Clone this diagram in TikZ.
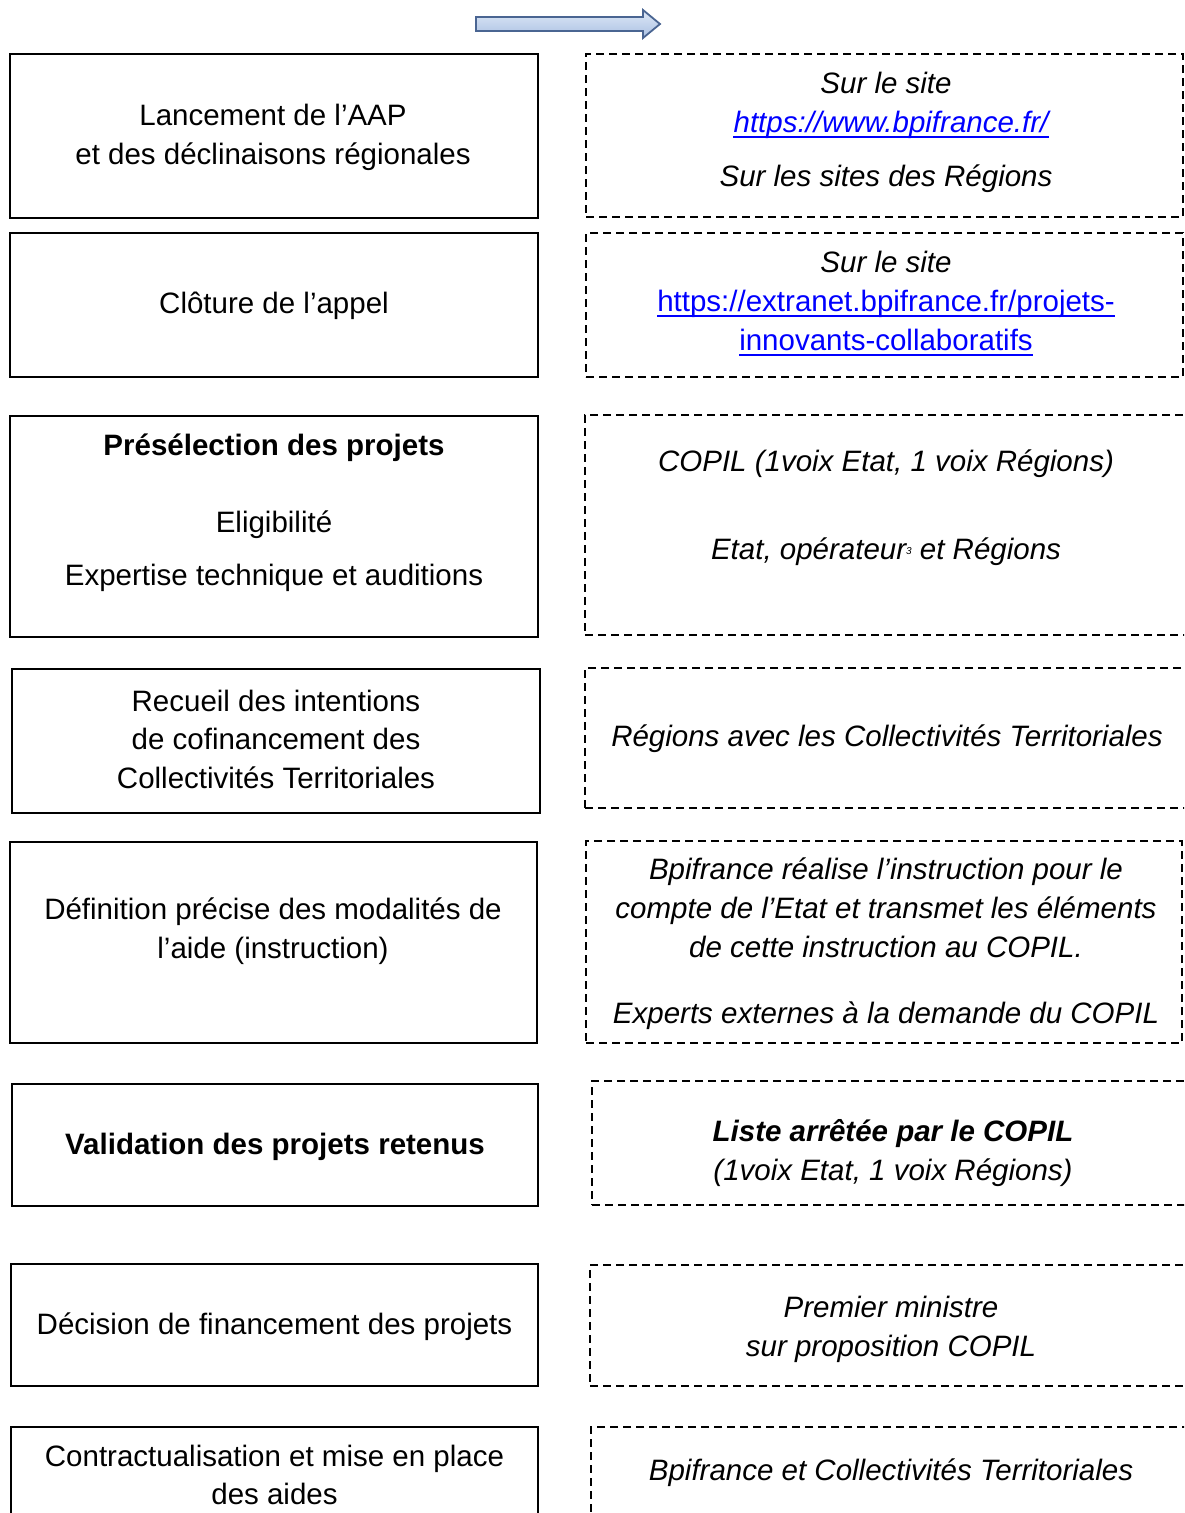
\documentclass[tikz,border=0pt]{standalone}
\usepackage{fontspec}
\setmainfont{Liberation Sans}
\definecolor{linkblue}{RGB}{0,0,255}
\definecolor{arrowline}{RGB}{74,101,146}
\definecolor{arrowtop}{RGB}{222,232,247}
\definecolor{arrowbot}{RGB}{170,192,226}
\begin{document}
\begin{tikzpicture}[x=1pt,y=-1pt,
  lbox/.style={draw, line width=1.8pt, inner sep=0pt},
  rbox/.style={draw, line width=1.6pt, dash pattern=on 8pt off 5pt, inner sep=0pt},
  txt/.style={anchor=base, inner sep=0pt, font=\fontsize{29.5}{39}\selectfont},
  itxt/.style={txt, font=\fontsize{29.5}{39}\selectfont\itshape},
  btxt/.style={txt, font=\fontsize{29.5}{39}\selectfont\bfseries},
  lnk/.style={text=linkblue},
  uline/.style={draw=linkblue, line width=1.8pt}]
\useasboundingbox (0,0) rectangle (1184,1513);
\clip (0,0) rectangle (1184,1513);
% top arrow
\draw[arrowline, line width=1.8pt, top color=arrowtop, bottom color=arrowbot]
  (476,17) -- (643,17) -- (643,10) -- (660,24) -- (643,38) -- (643,31) -- (476,31) -- cycle;
% left boxes
\node[lbox, minimum width=528pt, minimum height=164pt] (L1) at (274,136) {};
\node[lbox, minimum width=528pt, minimum height=144pt] (L2) at (274,305) {};
\node[lbox, minimum width=528pt, minimum height=221pt] (L3) at (274,526.5) {};
\node[lbox, minimum width=528pt, minimum height=144pt] (L4) at (276,741) {};
\node[lbox, minimum width=527pt, minimum height=201pt] (L5) at (273.5,942.5) {};
\node[lbox, minimum width=526pt, minimum height=122pt] (L6) at (275,1145) {};
\node[lbox, minimum width=527pt, minimum height=122pt] (L7) at (274.5,1325) {};
\node[lbox, minimum width=527pt, minimum height=103pt] (L8) at (274.5,1478.5) {};
% right boxes
\node[rbox, minimum width=597pt, minimum height=163pt] (R1) at (884.5,135.5) {};
\node[rbox, minimum width=597pt, minimum height=144pt] (R2) at (884.5,305) {};
\node[rbox, minimum width=605pt, minimum height=220pt] (R3) at (887.5,525) {};
\node[rbox, minimum width=605pt, minimum height=140pt] (R4) at (887.5,738) {};
\node[rbox, minimum width=596pt, minimum height=202pt] (R5) at (884,942) {};
\node[rbox, minimum width=598pt, minimum height=124pt] (R6) at (891,1143) {};
\node[rbox, minimum width=600pt, minimum height=121pt] (R7) at (890,1325.5) {};
\node[rbox, minimum width=599pt, minimum height=103pt] (R8) at (890.5,1478.5) {};
% left texts
\node[txt] (t1a) at (273,125) {Lancement de l’AAP};
\node[txt] (t1b) at (273,164) {et des déclinaisons régionales};
\node[txt] (t2a) at (274,313) {Clôture de l’appel};
\node[btxt] (t3a) at (274,455) {Présélection des projets};
\node[txt] (t3b) at (274,532) {Eligibilité};
\node[txt] (t3c) at (274,585) {Expertise technique et auditions};
\node[txt] (t4a) at (276,711) {Recueil des intentions};
\node[txt] (t4b) at (276,749) {de cofinancement des};
\node[txt] (t4c) at (276,788) {Collectivités Territoriales};
\node[txt] (t5a) at (273,919) {Définition précise des modalités de};
\node[txt] (t5b) at (273,958) {l’aide (instruction)};
\node[btxt] (t6a) at (275,1154) {Validation des projets retenus};
\node[txt] (t7a) at (274.5,1334) {Décision de financement des projets};
\node[txt] (t8a) at (274.5,1466) {Contractualisation et mise en place};
\node[txt] (t8b) at (274.5,1504) {des aides};
% right texts
\node[itxt] (r1a) at (886,93) {Sur le site};
\node[itxt, lnk] (r1b) at (891,132) {https://www.bpifrance.fr/};
\draw[uline] ([yshift=-5pt]r1b.base west) -- ([yshift=-5pt]r1b.base east);
\node[itxt] (r1c) at (886,186) {Sur les sites des Régions};
\node[itxt] (r2a) at (886,272) {Sur le site};
\node[txt, lnk] (r2b) at (886,311) {https://extranet.bpifrance.fr/projets-};
\draw[uline] ([yshift=-5pt]r2b.base west) -- ([yshift=-5pt]r2b.base east);
\node[txt, lnk] (r2c) at (886,350) {innovants-collaboratifs};
\draw[uline] ([yshift=-5pt]r2c.base west) -- ([yshift=-5pt]r2c.base east);
\node[itxt] (r3a) at (886,471) {COPIL (1voix Etat, 1 voix Régions)};
\node[itxt] (r3b) at (886,559) {Etat, opérateur\raisebox{5pt}{\fontsize{10}{10}\selectfont 3} et Régions};
\node[itxt] (r4a) at (887,746) {Régions avec les Collectivités Territoriales};
\node[itxt] (r5a) at (886,879) {Bpifrance réalise l’instruction pour le};
\node[itxt] (r5b) at (886,918) {compte de l’Etat et transmet les éléments};
\node[itxt] (r5c) at (886,957) {de cette instruction au COPIL.};
\node[itxt] (r5d) at (886,1023) {Experts externes à la demande du COPIL};
\node[itxt, font=\fontsize{29.5}{39}\selectfont\bfseries\itshape] (r6a) at (893,1141) {Liste arrêtée par le COPIL};
\node[itxt] (r6b) at (893,1180) {(1voix Etat, 1 voix Régions)};
\node[itxt] (r7a) at (891,1317) {Premier ministre};
\node[itxt] (r7b) at (891,1356) {sur proposition COPIL};
\node[itxt] (r8a) at (891,1480) {Bpifrance et Collectivités Territoriales};
\end{tikzpicture}
\end{document}
